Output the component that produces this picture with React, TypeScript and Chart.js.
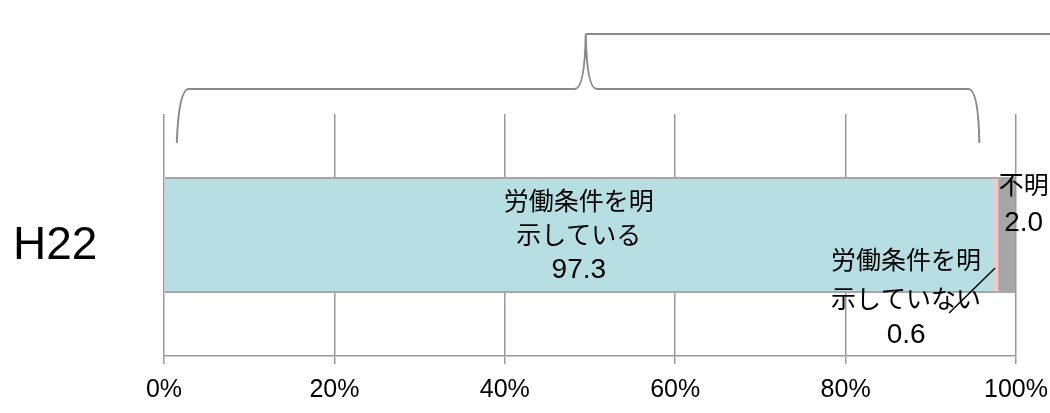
import React, { useEffect, useRef } from "react";
import { Chart, registerables } from "chart.js";

Chart.register(...registerables);

const categories = ["H22"];
const seriesNames = ["労働条件を明示している", "労働条件を明示していない", "不明"];
const labelLines = [["労働条件を明", "示している"], ["労働条件を明", "示していない"], ["不明"]];
const valuesShown = [97.3, 0.6, 2.0];
const seriesColors = ["#b7dfe3", "#f7c6c6", "#a6a6a6"];
const tickValues = [0, 20, 40, 60, 80, 100];

const FONT = '"Liberation Sans", "Noto Sans CJK JP", Arial, sans-serif';

function drawLines(ctx: any, lines: string[], cx: number, ys: number[]) {
  lines.forEach((t, i) => {
    const isNum = /^[0-9.]+$/.test(t);
    ctx.font = `${isNum ? 28 : 25}px ${FONT}`;
    ctx.fillText(t, cx, ys[i]);
  });
}

const labelPlugin = {
  id: "labelsAndBrace",
  afterDatasetsDraw(chart: any) {
    const ctx = chart.ctx;
    const xs = chart.scales.x;
    const top = chart.chartArea.top;
    ctx.save();
    // brace annotation
    const L = xs.getPixelForValue(1.5);
    const C = xs.getPixelForValue(49.5);
    const R = xs.getPixelForValue(95.7);
    const yArm = top + 29;
    const yMid = top - 25;
    const yTop = top - 80;
    ctx.strokeStyle = "#8a8a8a";
    ctx.lineWidth = 2;
    ctx.beginPath();
    ctx.moveTo(L, yArm);
    ctx.quadraticCurveTo(L + 2, yMid, L + 12, yMid);
    ctx.lineTo(C - 11, yMid);
    ctx.quadraticCurveTo(C - 1, yMid, C, yTop);
    ctx.quadraticCurveTo(C + 1, yMid, C + 11, yMid);
    ctx.lineTo(R - 11, yMid);
    ctx.quadraticCurveTo(R - 1, yMid, R, yArm);
    ctx.stroke();
    ctx.beginPath();
    ctx.moveTo(C, yTop);
    ctx.lineTo(chart.width + 5, yTop);
    ctx.stroke();

    // data labels
    ctx.fillStyle = "#000";
    ctx.textAlign = "center";
    ctx.textBaseline = "middle";
    const m0 = chart.getDatasetMeta(0).data[0];
    const m1 = chart.getDatasetMeta(1).data[0];
    const m2 = chart.getDatasetMeta(2).data[0];
    drawLines(
      ctx,
      [...labelLines[0], valuesShown[0].toFixed(1)],
      (m0.x + m0.base) / 2,
      [m0.y - 32, m0.y + 2, m0.y + 35]
    );
    drawLines(
      ctx,
      [...labelLines[1], valuesShown[1].toFixed(1)],
      m1.x - 92,
      [m1.y + 27, m1.y + 66, m1.y + 100]
    );
    ctx.strokeStyle = "#000";
    ctx.lineWidth = 1.5;
    ctx.beginPath();
    ctx.moveTo(m1.x - 3, m1.y + 33);
    ctx.lineTo(m1.x - 49, m1.y + 78);
    ctx.stroke();
    drawLines(
      ctx,
      [...labelLines[2], valuesShown[2].toFixed(1)],
      (m2.x + m2.base) / 2 + 17,
      [m2.y - 48, m2.y - 12]
    );
    ctx.restore();
  },
};

export default function App() {
  const ref = useRef<HTMLCanvasElement>(null);
  useEffect(() => {
    if (!ref.current) return;
    const chart = new Chart(ref.current, {
      type: "bar",
      data: {
        labels: categories,
        datasets: seriesNames.map((name, i) => ({
          label: name,
          data: [valuesShown[i]],
          backgroundColor: seriesColors[i],
          borderColor: "#a6a6a6",
          borderWidth: { top: 2, bottom: 2, left: 0, right: 0 },
          borderSkipped: false,
          categoryPercentage: 1,
          barPercentage: 0.48,
        })),
      },
      options: {
        indexAxis: "y",
        animation: false,
        responsive: false,
        devicePixelRatio: 1,
        layout: { padding: { top: 114, right: 34, left: 13, bottom: 0 } },
        plugins: { legend: { display: false }, tooltip: { enabled: false } },
        scales: {
          x: {
            stacked: true,
            min: 0,
            max: 100,
            afterBuildTicks: (s: any) => {
              s.ticks = tickValues.map((v) => ({ value: v }));
            },
            ticks: {
              callback: (v: any) => v + "%",
              color: "#000",
              font: { family: FONT, size: 25 },
              padding: 11,
              maxRotation: 0,
            },
            grid: { color: "#999", lineWidth: 1.5, drawTicks: true, tickLength: 8, tickColor: "#999" },
            border: { display: true, color: "#999", width: 1.5 },
            afterFit: (s: any) => {
              s.height = 57;
              s.paddingLeft = 0;
              s.paddingRight = 0;
            },
          },
          y: {
            stacked: true,
            ticks: {
              color: "#000",
              font: { family: FONT, size: 46 },
              padding: 0,
              crossAlign: "far",
              labelOffset: 11,
            },
            grid: { display: false, drawTicks: false },
            border: { display: false },
            afterFit: (s: any) => {
              s.width = 151;
              s.paddingTop = 0;
              s.paddingBottom = 0;
            },
          },
        },
      },
      plugins: [labelPlugin],
    });
    return () => chart.destroy();
  }, []);
  return (
    <div style={{ position: "absolute", left: 0, top: 0, width: 1050, height: 413, background: "#fff" }}>
      <canvas ref={ref} width={1050} height={413} style={{ width: 1050, height: 413 }} />
    </div>
  );
}
